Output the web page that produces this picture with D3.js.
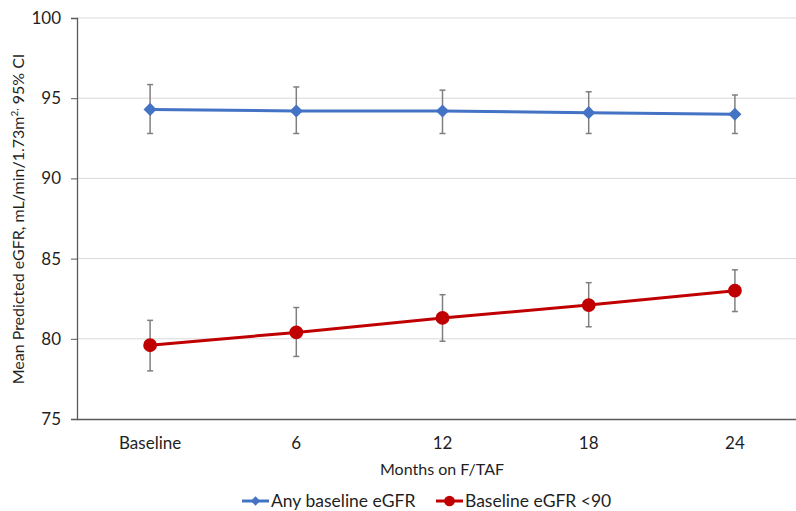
<!DOCTYPE html>
<html>
<head>
<meta charset="utf-8">
<script src="https://cdn.jsdelivr.net/npm/d3@7"></script>
<style>
  body { margin: 0; background: #fff; }
  text { font-family: Lato, "Open Sans", sans-serif; fill: #1f1f1f; }
</style>
</head>
<body>
<div id="chart"></div>
<script>
// Data
var months = ["Baseline", "6", "12", "18", "24"];
var yTicks = [75, 80, 85, 90, 95, 100];

var anyMean = [94.3, 94.2, 94.2, 94.1, 94.0];
var anyLow = [92.8, 92.8, 92.8, 92.8, 92.8];
var anyHigh = [95.85, 95.7, 95.5, 95.4, 95.2];

var lowMean = [79.6, 80.4, 81.3, 82.1, 83.0];
var lowLow = [78.0, 78.9, 79.85, 80.75, 81.7];
var lowHigh = [81.15, 81.95, 82.75, 83.5, 84.3];

var seriesNames = ["Any baseline eGFR", "Baseline eGFR <90"];
var colors = ["#4472C4", "#C00000"];

var w = 796;
var h = 511;

var svg = d3.select("#chart")
	.append("svg")
	.attr("width", w)
	.attr("height", h);

var x = d3.scaleBand()
	.domain(months)
	.range([77, 808]);

var y = d3.scaleLinear()
	.domain([75, 100])
	.range([419, 18]);

function cx(d) { return x(d) + x.bandwidth() / 2; }

//Gridlines
svg.selectAll("line.grid")
	.data(yTicks.filter(function (t) { return t > 75; }))
	.enter()
	.append("line")
	.attr("class", "grid")
	.attr("x1", 77)
	.attr("x2", 808)
	.attr("y1", function (d) { return y(d); })
	.attr("y2", function (d) { return y(d); })
	.attr("stroke", "#D9D9D9")
	.attr("stroke-width", 1);

//Y axis
var yAxis = svg.append("g")
	.attr("transform", "translate(77,0)")
	.call(d3.axisLeft(y).tickValues(yTicks).tickSize(6).tickPadding(10));
yAxis.select(".domain").attr("stroke", "#595959").attr("stroke-width", 1.3);
yAxis.selectAll(".tick line").attr("stroke", "#595959");
yAxis.selectAll("text")
	.style("font-family", "Lato, 'Open Sans', sans-serif")
	.style("font-size", "17px")
	.attr("fill", "#1f1f1f");

//X axis
var xAxis = svg.append("g")
	.attr("transform", "translate(0,419)")
	.call(d3.axisBottom(x).tickSize(0).tickPadding(18));
xAxis.select(".domain").attr("stroke", "#595959").attr("stroke-width", 1.3);
xAxis.selectAll("text")
	.style("font-family", "Lato, 'Open Sans', sans-serif")
	.style("font-size", "17px")
	.attr("fill", "#1f1f1f");

//Axis titles
svg.append("text")
	.attr("x", 442)
	.attr("y", 475)
	.attr("text-anchor", "middle")
	.style("font-size", "16px")
	.text("Months on F/TAF");

var yt = svg.append("text")
	.attr("transform", "translate(24,219) rotate(-90)")
	.attr("text-anchor", "middle")
	.style("font-size", "16px");
yt.append("tspan").text("Mean Predicted eGFR, mL/min/1.73m");
yt.append("tspan").attr("baseline-shift", "super").style("font-size", "10px").text("2,");
yt.append("tspan").text(" 95% CI");

var series = [
	{ mean: anyMean, low: anyLow, high: anyHigh },
	{ mean: lowMean, low: lowLow, high: lowHigh }
];

var line = d3.line()
	.x(function (d, i) { return cx(months[i]); })
	.y(function (d) { return y(d); });

series.forEach(function (s, si) {
	//Error bars
	var eb = svg.append("g");
	months.forEach(function (m, i) {
		var px = cx(m);
		eb.append("line")
			.attr("x1", px).attr("x2", px)
			.attr("y1", y(s.low[i])).attr("y2", y(s.high[i]));
		eb.append("line")
			.attr("x1", px - 3).attr("x2", px + 3)
			.attr("y1", y(s.low[i])).attr("y2", y(s.low[i]));
		eb.append("line")
			.attr("x1", px - 3).attr("x2", px + 3)
			.attr("y1", y(s.high[i])).attr("y2", y(s.high[i]));
	});
	eb.selectAll("line").attr("stroke", "#7F7F7F").attr("stroke-width", 1.5);

	svg.append("path")
		.datum(s.mean)
		.attr("fill", "none")
		.attr("stroke", colors[si])
		.attr("stroke-width", 3)
		.attr("d", line);

	svg.selectAll("path.m" + si)
		.data(s.mean)
		.enter()
		.append("path")
		.attr("class", "m" + si)
		.attr("transform", function (d, i) {
			return "translate(" + cx(months[i]) + "," + y(d) + ")";
		})
		.attr("d", d3.symbol().type(si == 0 ? d3.symbolDiamond2 : d3.symbolCircle).size(si == 0 ? 110 : 150))
		.attr("fill", colors[si]);
});

//Legend
var legendX = [242, 436];
var legend = svg.selectAll("g.legend")
	.data(seriesNames)
	.enter()
	.append("g")
	.attr("class", "legend")
	.attr("transform", function (d, i) { return "translate(" + legendX[i] + ",501)"; });

legend.append("line")
	.attr("x1", 0).attr("x2", 27)
	.attr("stroke", function (d, i) { return colors[i]; })
	.attr("stroke-width", 3);
legend.append("path")
	.attr("transform", "translate(13.5,0)")
	.attr("d", function (d, i) {
		return d3.symbol().type(i == 0 ? d3.symbolDiamond2 : d3.symbolCircle).size(i == 0 ? 55 : 90)();
	})
	.attr("fill", function (d, i) { return colors[i]; });
legend.append("text")
	.attr("x", 29)
	.attr("dy", "0.35em")
	.style("font-size", "17.5px")
	.text(function (d) { return d; });
</script>
</body>
</html>
